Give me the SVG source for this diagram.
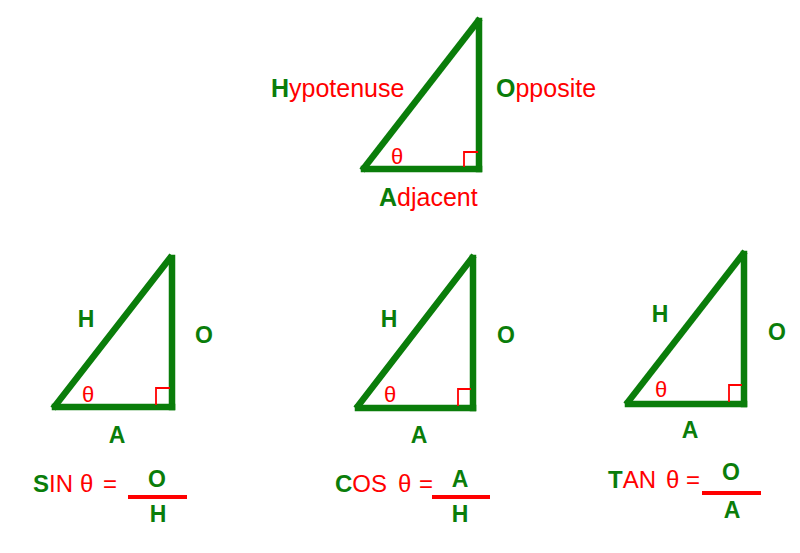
<svg xmlns="http://www.w3.org/2000/svg" width="800" height="553" viewBox="0 0 800 553">
<style>
.side{stroke:#0a7d0a;stroke-width:6.5;fill:none;stroke-linecap:square}
.sq{stroke:#ff0000;stroke-width:1.8;fill:none}
.g{fill:#0a7d0a;font-family:"Liberation Sans",Arial,sans-serif;font-weight:bold}
.r{fill:#ff0000;font-family:"Liberation Sans",Arial,sans-serif;font-weight:normal}
.bar{stroke:#ff0000;stroke-width:4}
</style>
<rect width="800" height="553" fill="#ffffff"/>
<g id="main-triangle">
<line class="side" x1="364" y1="168" x2="478" y2="21"/>
<line class="side" x1="479" y1="21" x2="479" y2="169"/>
<line class="side" x1="364" y1="169" x2="479" y2="169"/>
<polyline class="sq" points="464,167 464,152 478,152"/>
<text x="397" y="164" class="r" font-size="22" text-anchor="middle">θ</text>
<text x="271" y="97" font-size="25"><tspan class="g">H</tspan><tspan class="r">ypotenuse</tspan></text>
<text x="496" y="97" font-size="25"><tspan class="g">O</tspan><tspan class="r">pposite</tspan></text>
<text x="379" y="206" font-size="25"><tspan class="g">A</tspan><tspan class="r">djacent</tspan></text>
</g>
<g id="sin-triangle">
<line class="side" x1="55" y1="406" x2="170" y2="258"/>
<line class="side" x1="172" y1="258" x2="172" y2="407"/>
<line class="side" x1="55" y1="407" x2="172" y2="407"/>
<polyline class="sq" points="156,405 156,388 170,388"/>
<text x="88" y="402" class="r" font-size="22" text-anchor="middle">θ</text>
<text x="86" y="327" class="g" font-size="23" text-anchor="middle">H</text>
<text x="204" y="343" class="g" font-size="23" text-anchor="middle">O</text>
<text x="117" y="443" class="g" font-size="23" text-anchor="middle">A</text>
</g>
<g id="sin-formula">
<text y="492" font-size="24"><tspan x="33" class="g">S</tspan><tspan class="r">IN</tspan><tspan x="80" class="r">θ</tspan><tspan x="103" class="r">=</tspan></text>
<line class="bar" x1="128" y1="497" x2="187" y2="497"/>
<text x="157" y="487" class="g" font-size="23" text-anchor="middle">O</text>
<text x="158" y="522" class="g" font-size="23" text-anchor="middle">H</text>
</g>
<g id="cos-triangle">
<line class="side" x1="358" y1="406" x2="472" y2="258"/>
<line class="side" x1="473" y1="258" x2="473" y2="408"/>
<line class="side" x1="358" y1="408" x2="473" y2="408"/>
<polyline class="sq" points="458,406 458,389 471,389"/>
<text x="390" y="402" class="r" font-size="22" text-anchor="middle">θ</text>
<text x="389" y="327" class="g" font-size="23" text-anchor="middle">H</text>
<text x="506" y="343" class="g" font-size="23" text-anchor="middle">O</text>
<text x="419" y="443" class="g" font-size="23" text-anchor="middle">A</text>
</g>
<g id="cos-formula">
<text y="492" font-size="24"><tspan x="335" class="g">C</tspan><tspan class="r">OS</tspan><tspan x="398" class="r">θ</tspan><tspan x="419" class="r">=</tspan></text>
<line class="bar" x1="432" y1="497" x2="490" y2="497"/>
<text x="460" y="487" class="g" font-size="23" text-anchor="middle">A</text>
<text x="460" y="522" class="g" font-size="23" text-anchor="middle">H</text>
</g>
<g id="tan-triangle">
<line class="side" x1="628" y1="402" x2="743" y2="254"/>
<line class="side" x1="744" y1="254" x2="744" y2="404"/>
<line class="side" x1="628" y1="404" x2="744" y2="404"/>
<polyline class="sq" points="729,402 729,385 742,385"/>
<text x="661" y="397" class="r" font-size="22" text-anchor="middle">θ</text>
<text x="660" y="322" class="g" font-size="23" text-anchor="middle">H</text>
<text x="777" y="340" class="g" font-size="23" text-anchor="middle">O</text>
<text x="690" y="438" class="g" font-size="23" text-anchor="middle">A</text>
</g>
<g id="tan-formula">
<text y="488" font-size="24"><tspan x="608" class="g">T</tspan><tspan class="r">AN</tspan><tspan x="666" class="r">θ</tspan><tspan x="686" class="r">=</tspan></text>
<line class="bar" x1="702" y1="493" x2="761" y2="493"/>
<text x="731" y="480" class="g" font-size="23" text-anchor="middle">O</text>
<text x="732" y="518" class="g" font-size="23" text-anchor="middle">A</text>
</g>
</svg>
